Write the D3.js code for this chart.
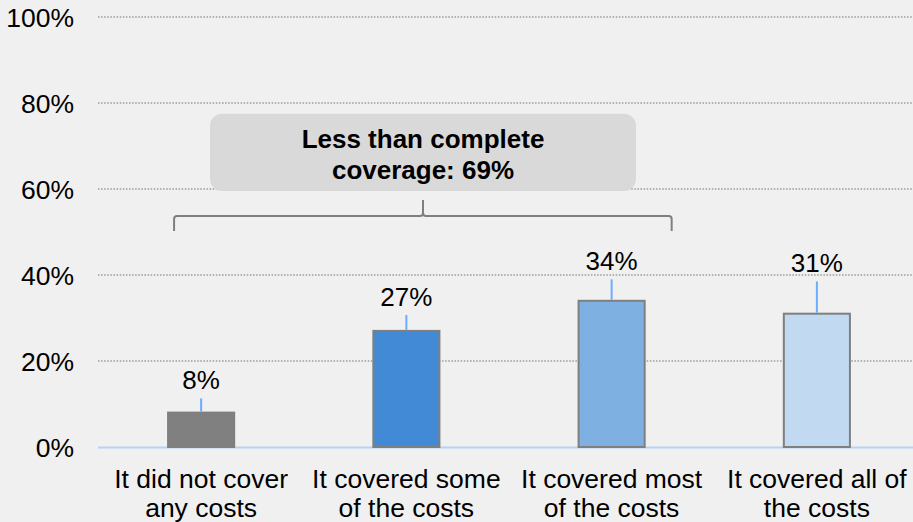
<!DOCTYPE html>
<html>
<head>
<meta charset="utf-8">
<script src="https://cdn.jsdelivr.net/npm/d3@7"></script>
<style>
  html, body { margin: 0; padding: 0; background: #f0f0f0; }
  svg { display: block; }
  text { font-family: "Liberation Sans", Arial, sans-serif; fill: #000; }
</style>
</head>
<body>
<svg id="chart" width="913" height="522"></svg>
<script>
// ---- data ----
const categories = [
  ["It did not cover", "any costs"],
  ["It covered some", "of the costs"],
  ["It covered most", "of the costs"],
  ["It covered all of", "the costs"]
];
const values = [8, 27, 34, 31];
const errorTops = [11.3, 30.7, 39, 38.5];
const valueLabels = ["8%", "27%", "34%", "31%"];
const yTicks = [0, 20, 40, 60, 80, 100];
const barColors = ["#808080", "#428ad6", "#7fb0e2", "#c2d9f2"];
const calloutLines = ["Less than complete", "coverage: 69%"];

// ---- layout ----
const svg = d3.select("#chart");
const W = 913, H = 522;
const pLeft = 98.5, pRight = 919.5, pTop = 17, pBottom = 447;

const x = d3.scaleBand()
  .domain(d3.range(categories.length))
  .range([pLeft, pRight])
  .paddingInner(0.678)
  .paddingOuter(0.339);

const y = d3.scaleLinear().domain([0, 100]).range([pBottom, pTop]);

svg.append("rect").attr("width", W).attr("height", H).attr("fill", "#f0f0f0");

// gridlines
svg.append("g").selectAll("line")
  .data(yTicks.filter(d => d > 0))
  .join("line")
  .attr("x1", 98).attr("x2", W)
  .attr("y1", d => y(d)).attr("y2", d => y(d))
  .attr("stroke", "#9a9a9a")
  .attr("stroke-width", 1.3)
  .attr("stroke-dasharray", "1.5,1.6");

// y tick labels
svg.append("g").selectAll("text")
  .data(yTicks)
  .join("text")
  .attr("x", 74)
  .attr("y", d => y(d))
  .attr("dy", "0.36em")
  .attr("text-anchor", "end")
  .attr("font-size", 26.5)
  .text(d => d + "%");

// callout box
svg.append("rect")
  .attr("x", 210).attr("y", y(77.5))
  .attr("width", 426).attr("height", y(60) - y(77.5) + 2)
  .attr("rx", 12).attr("ry", 12)
  .attr("fill", "#d9d9d9");
svg.append("g").selectAll("text")
  .data(calloutLines)
  .join("text")
  .attr("x", 423)
  .attr("y", (d, i) => 148 + i * 31)
  .attr("text-anchor", "middle")
  .attr("font-size", 26)
  .attr("font-weight", "bold")
  .text(d => d);

// bracket
const bl = x(0) + 6, br = x(2) + x.bandwidth() + 27, bm = 423;
const by = 216, bEnd = 231, bPeak = 200;
svg.append("path")
  .attr("d", `M${bl},${bEnd} L${bl},${by + 3} Q${bl},${by} ${bl + 3},${by} L${bm - 3},${by} Q${bm},${by} ${bm},${by - 3} L${bm},${bPeak} M${bm},${by - 3} Q${bm},${by} ${bm + 3},${by} L${br - 3},${by} Q${br},${by} ${br},${by + 3} L${br},${bEnd}`)
  .attr("fill", "none")
  .attr("stroke", "#7f7f7f")
  .attr("stroke-width", 2);

// baseline
svg.append("line")
  .attr("x1", 98).attr("x2", W)
  .attr("y1", pBottom + 0.5).attr("y2", pBottom + 0.5)
  .attr("stroke", "#b5d3f5")
  .attr("stroke-width", 2);

// bars
svg.append("g").selectAll("rect")
  .data(values)
  .join("rect")
  .attr("x", (d, i) => x(i))
  .attr("y", d => y(d))
  .attr("width", x.bandwidth())
  .attr("height", d => y(0) - y(d))
  .attr("fill", (d, i) => barColors[i])
  .attr("stroke", "#7f7f7f")
  .attr("stroke-width", 2);

// error whiskers
svg.append("g").selectAll("line")
  .data(values)
  .join("line")
  .attr("x1", (d, i) => x(i) + x.bandwidth() / 2)
  .attr("x2", (d, i) => x(i) + x.bandwidth() / 2)
  .attr("y1", d => y(d) - 1)
  .attr("y2", (d, i) => y(errorTops[i]))
  .attr("stroke", "#6aaeff")
  .attr("stroke-width", 2);

// value labels
svg.append("g").selectAll("text")
  .data(valueLabels)
  .join("text")
  .attr("x", (d, i) => x(i) + x.bandwidth() / 2)
  .attr("y", (d, i) => y(errorTops[i]) - 9)
  .attr("text-anchor", "middle")
  .attr("font-size", 26)
  .text(d => d);

// category labels
const cat = svg.append("g").selectAll("text")
  .data(categories)
  .join("text")
  .attr("x", (d, i) => x(i) + x.bandwidth() / 2)
  .attr("y", 488)
  .attr("text-anchor", "middle")
  .attr("font-size", 26.5);
cat.selectAll("tspan")
  .data(d => d)
  .join("tspan")
  .attr("x", function() { return this.parentNode.getAttribute("x"); })
  .attr("dy", (d, i) => i === 0 ? 0 : 29)
  .text(d => d);
</script>
</body>
</html>
